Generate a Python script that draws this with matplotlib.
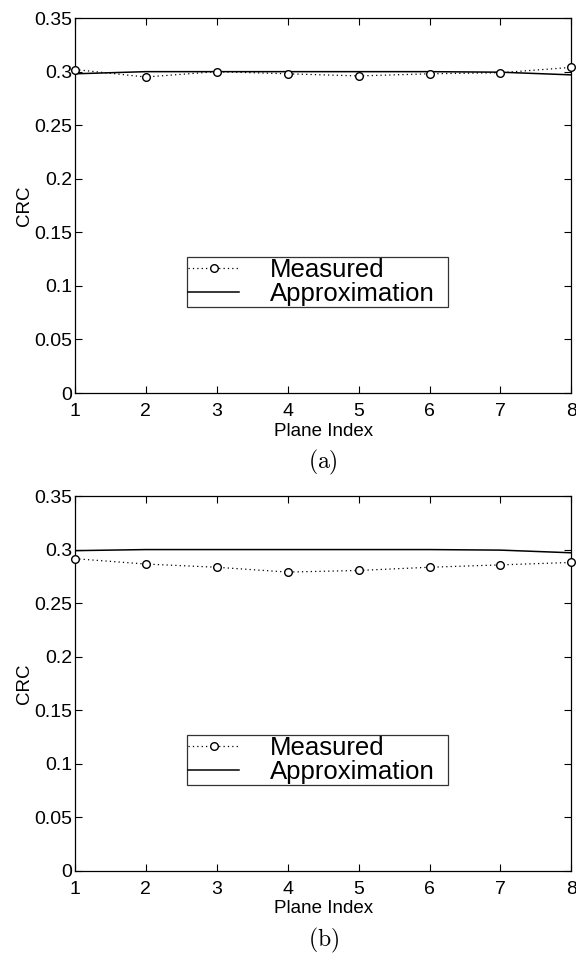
import matplotlib
matplotlib.use("Agg")
import matplotlib.pyplot as plt

plane_index = [1, 2, 3, 4, 5, 6, 7, 8]

# Panel (a)
measured_a = [0.302, 0.295, 0.300, 0.298, 0.296, 0.298, 0.299, 0.304]
approx_a = [0.298, 0.300, 0.300, 0.300, 0.300, 0.300, 0.2995, 0.297]

# Panel (b)
measured_b = [0.2915, 0.2865, 0.2835, 0.279, 0.2805, 0.2835, 0.2857, 0.288]
approx_b = [0.299, 0.300, 0.300, 0.300, 0.300, 0.300, 0.2995, 0.297]

y_ticks = [0, 0.05, 0.1, 0.15, 0.2, 0.25, 0.3, 0.35]
y_tick_labels = ["0", "0.05", "0.1", "0.15", "0.2", "0.25", "0.3", "0.35"]
panel_labels = ["(a)", "(b)"]

plt.rcParams["font.family"] = ["Liberation Sans", "DejaVu Sans"]
plt.rcParams["mathtext.fontset"] = "cm"

fig = plt.figure(figsize=(5.76, 9.57), dpi=100)
ax_a = fig.add_axes([0.130, 0.5893, 0.862, 0.3918])
ax_b = fig.add_axes([0.130, 0.0899, 0.862, 0.3918])

for ax, meas, appr, lab in [(ax_a, measured_a, approx_a, panel_labels[0]),
                            (ax_b, measured_b, approx_b, panel_labels[1])]:
    ax.plot(plane_index, meas, linestyle=(0, (1, 2.5)), color="black",
            linewidth=0.9, marker="o", markersize=5.5, markerfacecolor="white",
            markeredgecolor="black", markeredgewidth=1.0, label="Measured",
            clip_on=False, zorder=3)
    ax.plot(plane_index, appr, linestyle="-", color="black", linewidth=1.1,
            label="Approximation", zorder=2)
    ax.set_xlim(1, 8)
    ax.set_ylim(0, 0.35)
    ax.set_xticks(plane_index)
    ax.set_yticks(y_ticks)
    ax.set_yticklabels(y_tick_labels)
    ax.tick_params(direction="in", length=5, width=0.8, top=True, right=True,
                   labelsize=14)
    ax.tick_params(axis="x", pad=7)
    ax.tick_params(axis="y", pad=2)
    for s in ax.spines.values():
        s.set_linewidth(0.9)
    ax.set_xlabel("Plane Index", fontsize=13.5, labelpad=2)
    ax.set_ylabel("CRC", fontsize=13.5, labelpad=1)
    leg = ax.legend(loc="lower left", bbox_to_anchor=(0.225, 0.229, 0.526, 0.14),
                    mode="expand", fontsize=18.5, frameon=True, fancybox=False,
                    edgecolor="black", borderpad=0.05, handlelength=2.0,
                    handletextpad=1.2, labelspacing=0.0, numpoints=1,
                    borderaxespad=0)
    leg.get_frame().set_linewidth(0.9)
    ax.text(0.5, -0.185, r"$\mathrm{" + lab + "}$", transform=ax.transAxes,
            ha="center", va="center", fontsize=17)

fig.savefig("out.png", dpi=100, facecolor="white")
